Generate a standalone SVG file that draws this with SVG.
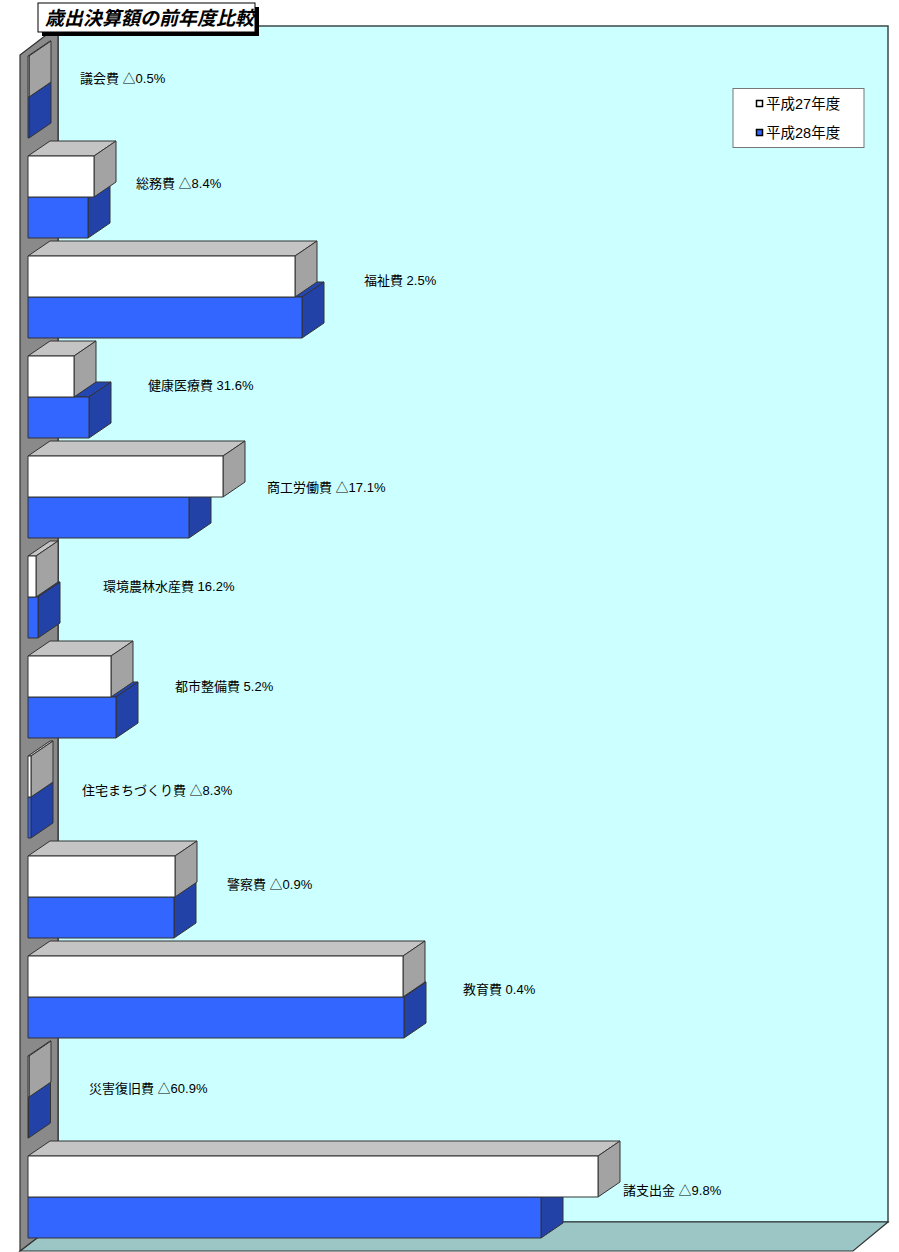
<svg xmlns="http://www.w3.org/2000/svg" width="899" height="1252" viewBox="0 0 899 1252">
<style>
.ln{stroke:#333;stroke-width:1;stroke-linejoin:round}
.wf{fill:#fff}.wt{fill:#c4c4c4}.ws{fill:#a3a3a3}
.bf{fill:#3366ff}.bt{fill:#2446b0}.bs{fill:#2242a8}
.lbl{font-family:"Liberation Sans","Noto Sans CJK JP",sans-serif;font-size:13px;fill:#000}
.leg{font-family:"Liberation Sans","Noto Sans CJK JP",sans-serif;font-size:14.5px;fill:#000}
</style>
<rect width="899" height="1252" fill="#fff"/>
<g id="chart-area">
<polygon points="58,26 888,26 888,1222 58,1222" fill="#ccffff" stroke="#3a4a4a" stroke-width="1.5"/>
<polygon points="58,1222 888,1222 853,1251 20,1251" fill="#9cc6c6" stroke="#333" stroke-width="1.2"/>
<polygon points="20,55 58,26 58,1222 20,1251" fill="#8a8a8a" stroke="#333" stroke-width="1.2"/>
</g>
<g id="title">
<rect x="42" y="7" width="217" height="29" fill="#000"/>
<rect x="38" y="3" width="217" height="29" fill="#fff" stroke="#000" stroke-width="1"/>
<text x="45" y="25" font-family="'Noto Sans CJK JP',sans-serif" font-size="19" font-weight="bold" font-style="italic" fill="#000">歳出決算額の前年度比較</text>
</g>
<g id="legend">
<rect x="733" y="88.5" width="131" height="59" fill="#fff" stroke="#777" stroke-width="1"/>
<rect x="756.5" y="100.5" width="6" height="6" fill="#fff" stroke="#000" stroke-width="1.5"/>
<text class="leg" x="766" y="109">平成27年度</text>
<rect x="756.5" y="129.5" width="6" height="6" fill="#3366ff" stroke="#000" stroke-width="1.5"/>
<text class="leg" x="766" y="138">平成28年度</text>
</g>
<g id="bars" class="ln">
<g id="bar-gikai">
<polygon class="bt" points="28,97 50,82 51,82 29,97"/><polygon class="bs" points="29,97 51,82 51,123 29,138"/><rect class="bf" x="28" y="97" width="1" height="41"/>
<polygon class="wt" points="28,56 50,41 51,41 29,56"/><polygon class="ws" points="29,56 51,41 51,82 29,97"/><rect class="wf" x="28" y="56" width="1" height="41"/>
</g>
<g id="bar-somu">
<polygon class="bt" points="28,197 50,182 110,182 88,197"/><polygon class="bs" points="88,197 110,182 110,223 88,238"/><rect class="bf" x="28" y="197" width="60" height="41"/>
<polygon class="wt" points="28,156 50,141 116,141 94,156"/><polygon class="ws" points="94,156 116,141 116,182 94,197"/><rect class="wf" x="28" y="156" width="66" height="41"/>
</g>
<g id="bar-fukushi">
<polygon class="bt" points="28,297 50,282 324,282 302,297"/><polygon class="bs" points="302,297 324,282 324,323 302,338"/><rect class="bf" x="28" y="297" width="274" height="41"/>
<polygon class="wt" points="28,256 50,241 317,241 295,256"/><polygon class="ws" points="295,256 317,241 317,282 295,297"/><rect class="wf" x="28" y="256" width="267" height="41"/>
</g>
<g id="bar-kenko">
<polygon class="bt" points="28,397 50,382 111,382 89,397"/><polygon class="bs" points="89,397 111,382 111,423 89,438"/><rect class="bf" x="28" y="397" width="61" height="41"/>
<polygon class="wt" points="28,356 50,341 96,341 74,356"/><polygon class="ws" points="74,356 96,341 96,382 74,397"/><rect class="wf" x="28" y="356" width="46" height="41"/>
</g>
<g id="bar-shoko">
<polygon class="bt" points="28,497 50,482 211,482 189,497"/><polygon class="bs" points="189,497 211,482 211,523 189,538"/><rect class="bf" x="28" y="497" width="161" height="41"/>
<polygon class="wt" points="28,456 50,441 245,441 223,456"/><polygon class="ws" points="223,456 245,441 245,482 223,497"/><rect class="wf" x="28" y="456" width="195" height="41"/>
</g>
<g id="bar-kankyo">
<polygon class="bt" points="28,597 50,582 60,582 38,597"/><polygon class="bs" points="38,597 60,582 60,623 38,638"/><rect class="bf" x="28" y="597" width="10" height="41"/>
<polygon class="wt" points="28,556 50,541 58,541 36,556"/><polygon class="ws" points="36,556 58,541 58,582 36,597"/><rect class="wf" x="28" y="556" width="8" height="41"/>
</g>
<g id="bar-toshi">
<polygon class="bt" points="28,697 50,682 138,682 116,697"/><polygon class="bs" points="116,697 138,682 138,723 116,738"/><rect class="bf" x="28" y="697" width="88" height="41"/>
<polygon class="wt" points="28,656 50,641 133,641 111,656"/><polygon class="ws" points="111,656 133,641 133,682 111,697"/><rect class="wf" x="28" y="656" width="83" height="41"/>
</g>
<g id="bar-jutaku">
<polygon class="bt" points="28,797 50,782 53,782 31,797"/><polygon class="bs" points="31,797 53,782 53,823 31,838"/><rect class="bf" x="28" y="797" width="3" height="41"/>
<polygon class="wt" points="28,756 50,741 53,741 31,756"/><polygon class="ws" points="31,756 53,741 53,782 31,797"/><rect class="wf" x="28" y="756" width="3" height="41"/>
</g>
<g id="bar-keisatsu">
<polygon class="bt" points="28,897 50,882 196,882 174,897"/><polygon class="bs" points="174,897 196,882 196,923 174,938"/><rect class="bf" x="28" y="897" width="146" height="41"/>
<polygon class="wt" points="28,856 50,841 197,841 175,856"/><polygon class="ws" points="175,856 197,841 197,882 175,897"/><rect class="wf" x="28" y="856" width="147" height="41"/>
</g>
<g id="bar-kyoiku">
<polygon class="bt" points="28,997 50,982 426,982 404,997"/><polygon class="bs" points="404,997 426,982 426,1023 404,1038"/><rect class="bf" x="28" y="997" width="376" height="41"/>
<polygon class="wt" points="28,956 50,941 425,941 403,956"/><polygon class="ws" points="403,956 425,941 425,982 403,997"/><rect class="wf" x="28" y="956" width="375" height="41"/>
</g>
<g id="bar-saigai">
<polygon class="bt" points="28,1097 50,1082 50.5,1082 28.5,1097"/><polygon class="bs" points="28.5,1097 50.5,1082 50.5,1123 28.5,1138"/><rect class="bf" x="28" y="1097" width="0.5" height="41"/>
<polygon class="wt" points="28,1056 50,1041 51,1041 29,1056"/><polygon class="ws" points="29,1056 51,1041 51,1082 29,1097"/><rect class="wf" x="28" y="1056" width="1" height="41"/>
</g>
<g id="bar-shoshishutsu">
<polygon class="bt" points="28,1197 50,1182 563,1182 541,1197"/><polygon class="bs" points="541,1197 563,1182 563,1223 541,1238"/><rect class="bf" x="28" y="1197" width="513" height="41"/>
<polygon class="wt" points="28,1156 50,1141 620,1141 598,1156"/><polygon class="ws" points="598,1156 620,1141 620,1182 598,1197"/><rect class="wf" x="28" y="1156" width="570" height="41"/>
</g>
</g>
<g id="labels">
<text class="lbl" x="80" y="83">議会費 △0.5%</text>
<text class="lbl" x="136" y="188">総務費 △8.4%</text>
<text class="lbl" x="364" y="285">福祉費 2.5%</text>
<text class="lbl" x="148" y="390">健康医療費 31.6%</text>
<text class="lbl" x="267" y="492">商工労働費 △17.1%</text>
<text class="lbl" x="103" y="591">環境農林水産費 16.2%</text>
<text class="lbl" x="175" y="691">都市整備費 5.2%</text>
<text class="lbl" x="82" y="795">住宅まちづくり費 △8.3%</text>
<text class="lbl" x="227" y="889">警察費 △0.9%</text>
<text class="lbl" x="463" y="994">教育費 0.4%</text>
<text class="lbl" x="89" y="1093">災害復旧費 △60.9%</text>
<text class="lbl" x="623" y="1195">諸支出金 △9.8%</text>
</g>
</svg>
